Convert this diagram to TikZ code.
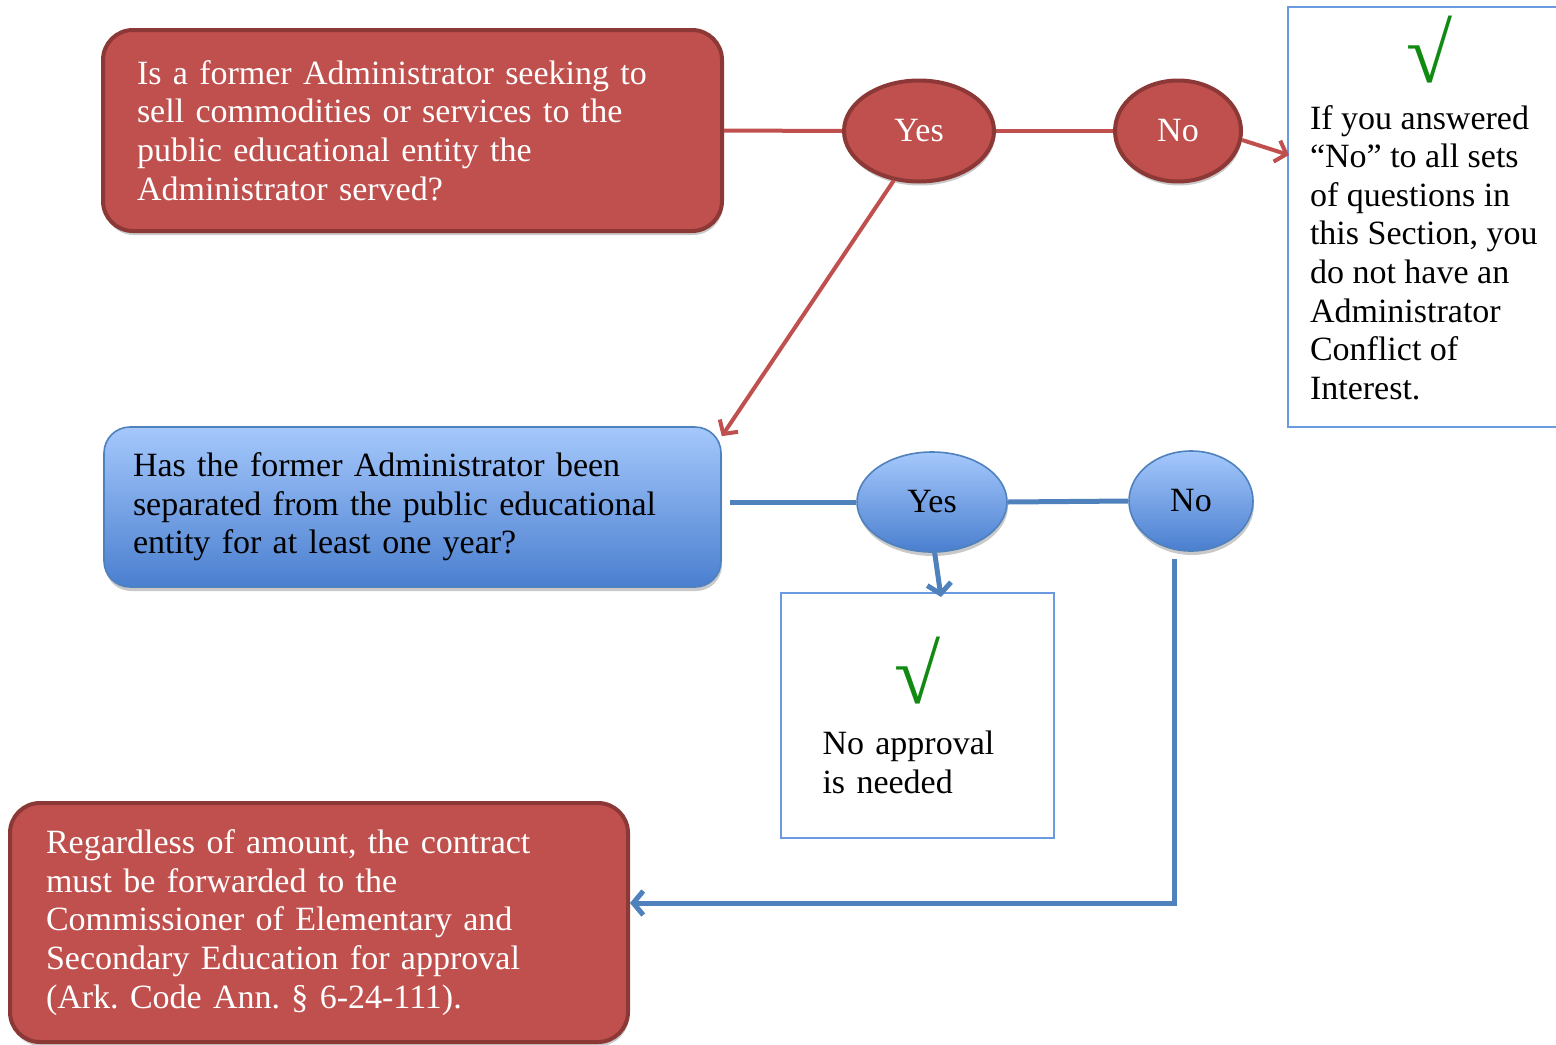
\documentclass[tikz,border=0pt]{standalone}
\usepackage{fontspec}
\setmainfont{Liberation Serif}
\usetikzlibrary{shapes.geometric,arrows.meta,shadows}

\definecolor{qred}{HTML}{C0504D}
\definecolor{qredline}{HTML}{8C3836}
\definecolor{qbluetop}{HTML}{A5C8FC}
\definecolor{qbluebot}{HTML}{4A7FCF}
\definecolor{qblueline}{HTML}{4F81BD}
\definecolor{qblueedge}{HTML}{6A9AE0}
\definecolor{tickgreen}{HTML}{118A11}

\newcommand{\tickmark}{{\fontsize{42}{42}\selectfont\color{tickgreen}√}}
\frenchspacing

\tikzset{
	txt/.style={font=\fontsize{17}{19.3}\selectfont},
	soft/.style={drop shadow={shadow xshift=0.5pt, shadow yshift=-2pt, opacity=0.3, fill=black!70}},
	redbox/.style={txt, rectangle, draw=qredline, line width=2pt, fill=qred, rounded corners=15pt, text=white, align=left, soft},
	bluebox/.style={txt, rectangle, draw=qblueline, line width=0.8pt, top color=qbluetop, bottom color=qbluebot, rounded corners=13pt, align=left, soft},
	redoval/.style={txt, ellipse, draw=qredline, line width=2pt, fill=qred, text=white, inner sep=0pt, minimum height=50.5pt, soft},
	blueoval/.style={txt, ellipse, draw=qblueline, line width=0.8pt, top color=qbluetop, bottom color=qbluebot, inner sep=0pt, minimum height=50pt, soft},
	answer/.style={txt, rectangle, draw=qblueedge, line width=1pt, align=left},
	redline/.style={draw=qred, line width=2pt},
	redarrow/.style={redline, -{Straight Barb[length=5pt, width=11pt]}},
	blueline/.style={draw=qblueline, line width=2.5pt},
	bluearrow/.style={blueline, -{Straight Barb[length=5pt, width=12pt]}},
}

\begin{document}
\begin{tikzpicture}[x=0.5pt,y=-0.5pt]
	\useasboundingbox (0,0) rectangle (1556,1044);

	% question boxes
	\node[redbox, text width=275.5pt, inner xsep=17pt, minimum height=100.5pt] (q1) at (412.5,130.5)
		{Is a former Administrator seeking to\\ sell commodities or services to the\\ public educational entity the\\ Administrator served?};
	\node[bluebox, text width=279.5pt, inner xsep=14.5pt, minimum height=80pt] (q2) at (412.5,507)
		{Has the former Administrator been\\ separated from the public educational\\ entity for at least one year?};
	\node[redbox, text width=273pt, inner xsep=18pt, minimum height=119.5pt] (q3) at (319,922.5)
		{Regardless of amount, the contract\\ must be forwarded to the\\ Commissioner of Elementary and\\ Secondary Education for approval\\ (Ark. Code Ann. § 6-24-111).};

	% answers
	\node[redoval, minimum width=75pt] (yes1) at (919,131) {Yes};
	\node[redoval, minimum width=63pt] (no1) at (1178,131) {No};
	\node[blueoval, minimum width=75pt] (yes2) at (932,502) {Yes};
	\node[blueoval, minimum width=62pt] (no2) at (1191,501) {No};

	% result boxes
	\node[answer, anchor=north west, inner xsep=11pt, inner ysep=0pt, minimum height=210pt] (note) at (1287,6)
		{\parbox[c][205pt][t]{128pt}{\raggedright
			\vspace*{2pt}\makebox[119.5pt]{\tickmark}\par\vspace{4pt}
			If you answered\\ “No” to all sets\\ of questions in\\ this Section, you\\ do not have an\\ Administrator\\ Conflict of\\ Interest.}};
	\node[answer, text width=95pt, inner xsep=20.75pt, minimum height=122.5pt] (noneed) at (917.5,715.5)
		{\makebox[95pt]{\tickmark}\\[6pt] No approval\\ is needed};

	\coordinate (notein) at (1289,155);
	\coordinate (noneedin) at (941,597);

	% connectors
	\draw[redline] (q1.east) -- (yes1.west);
	\draw[redline] (yes1.east) -- (no1.west);
	\draw[redarrow] (no1.-8) -- (notein);
	\draw[redarrow] (yes1.-117) -- ([yshift=-5pt]q2.north east);
	\draw[blueline, shorten <=4pt] (yes2.west -| q2.east) -- (yes2.west);
	\draw[blueline] (yes2.east) -- (no2.west);
	\draw[bluearrow] (yes2.-87) -- (noneedin);
	\draw[bluearrow, shorten <=3.5pt] ([xshift=-8.5pt]no2.south) |- ([yshift=9.75pt]q3.east);
\end{tikzpicture}
\end{document}
